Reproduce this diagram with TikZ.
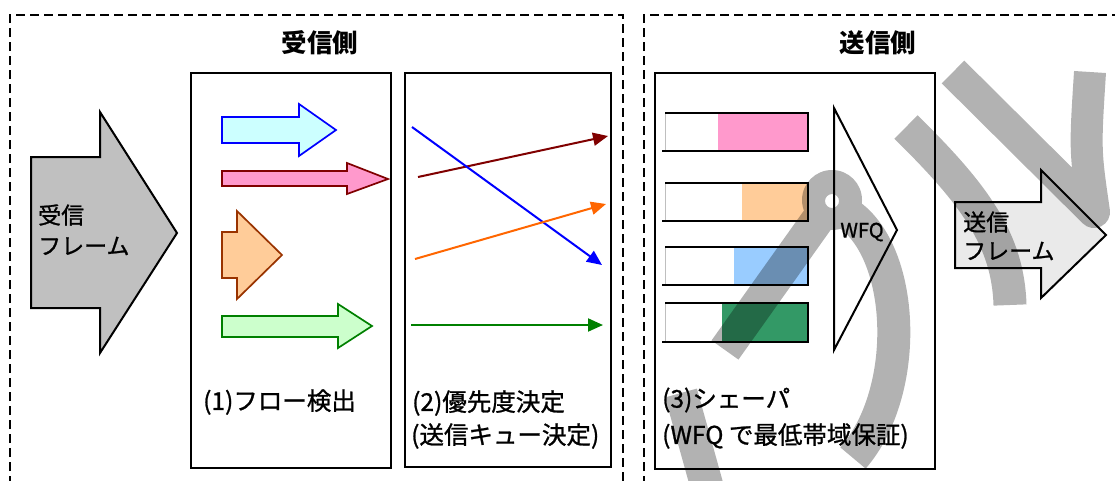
\documentclass[tikz,border=0pt]{standalone}
\usepackage{fontspec}
\setmainfont{Noto Sans CJK JP}
\newfontfamily\jpbody{Noto Sans CJK JP}[FakeBold=1.0]
\usetikzlibrary{arrows.meta}
\definecolor{lblue}{HTML}{CCFFFF}
\definecolor{pinkf}{HTML}{FF99CC}
\definecolor{dred}{HTML}{800000}
\definecolor{orgf}{HTML}{FFCC99}
\definecolor{brn}{HTML}{993300}
\definecolor{lgreen}{HTML}{CCFFCC}
\definecolor{dgreen}{HTML}{008000}
\definecolor{orgline}{HTML}{FF6600}
\definecolor{qblue}{HTML}{99CCFF}
\definecolor{qgreen}{HTML}{339966}
\definecolor{infill}{HTML}{C0C0C0}
\definecolor{outfill}{HTML}{EAEAEA}
\tikzset{
  dashbox/.style={line width=2pt, dash pattern=on 9pt off 5pt},
  panel/.style={line width=2pt},
  blk/.style={line width=2pt, line join=miter},
  flowarrow/.style={line width=1.7pt, line join=miter},
  conn/.style={line width=2pt, -{Triangle[length=15pt,width=13pt]}},
  txt/.style={inner sep=0pt, font=\jpbody\fontsize{24.5}{28}\selectfont},
  arrtxt/.style={inner sep=0pt, font=\jpbody\fontsize{23}{26}\selectfont},
  title/.style={inner sep=0pt, font=\fontsize{25.5}{28}\selectfont\bfseries},
  qline/.style={line width=2pt},
  overlay/.style={black, line width=33pt},
}
\begin{document}
\begin{tikzpicture}[x=1pt,y=-1pt]
\useasboundingbox (0,0) rectangle (1115,480);
\clip (0,0) rectangle (1115,480);
\fill[white] (0,0) rectangle (1115,480);

% dashed areas
\draw[dashbox] (10,485) -- (10,15) -- (623,15) -- (623,485);
\draw[dashbox] (644,485) -- (644,15) -- (1125,15);
\node[title] (rxtitle) at (320,43) {受信側};
\node[title] (txtitle) at (878,43) {送信側};

% input frame arrow
\draw[blk, fill=infill] (31,157) -- (100,157) -- (100,112) -- (177,233) -- (100,353) -- (100,308) -- (31,308) -- cycle;
\node[arrtxt, anchor=west] (in1) at (38,215) {受信};
\node[arrtxt, anchor=west] (in2) at (38,246) {フレーム};

% panel 1
\draw[panel] (191,73) rectangle (391,468);
\draw[flowarrow, draw=blue, fill=lblue] (222,117) -- (299,117) -- (299,104) -- (336,130) -- (299,156) -- (299,143) -- (222,143) -- cycle;
\draw[flowarrow, draw=dred, fill=pinkf] (222,171) -- (347,171) -- (347,163) -- (388,179) -- (347,194) -- (347,186) -- (222,186) -- cycle;
\draw[flowarrow, draw=brn, fill=orgf] (222,232) -- (237,232) -- (237,211) -- (282,255) -- (237,299) -- (237,278) -- (222,278) -- cycle;
\draw[flowarrow, draw=dgreen, fill=lgreen] (222,316) -- (338,316) -- (338,304) -- (372,326) -- (338,348) -- (338,337) -- (222,337) -- cycle;
\node[txt, anchor=west] (lab1) at (203,402) {(1)フロー検出};

% panel 2
\draw[panel] (405,73) rectangle (611,467);
\coordinate (r0) at (418,177); \coordinate (r1) at (608,136);
\coordinate (b0) at (412,127); \coordinate (b1) at (602,265);
\coordinate (o0) at (415,259); \coordinate (o1) at (606,204);
\coordinate (g0) at (411,325); \coordinate (g1) at (603,325);
\draw[conn, draw=dred, fill=dred] (r0) -- (r1);
\draw[conn, draw=blue, fill=blue] (b0) -- (b1);
\draw[conn, draw=orgline, fill=orgline] (o0) -- (o1);
\draw[conn, draw=dgreen, fill=dgreen] (g0) -- (g1);
\node[txt, anchor=west] (lab2a) at (412,403) {(2)優先度決定};
\node[txt, anchor=west] (lab2b) at (411,436) {(送信キュー決定)};

% panel 3
\draw[panel] (655,73) rectangle (935,469);
\foreach \t/\b/\s/\c in {113/151/718/pinkf, 183/221/742/orgf, 247/285/734/qblue, 303/342/722/qgreen}{
  \fill[\c] (\s,\t) rectangle (808,\b);
  \draw[line width=0.7pt, black!25] (665,\t) -- (665,\b);
  \draw[qline] (665,\t) -- (808,\t) -- (808,\b) -- (662,\b);
}
\draw[blk, fill=white] (834,108) -- (897,230) -- (834,350) -- cycle;
\node[inner sep=0pt, font=\jpbody\fontsize{20}{22}\selectfont] (wfq) at (862,232) {WFQ};
\node[txt, anchor=west] (lab3a) at (662,400) {(3)シェーパ};
\node[txt, anchor=west] (lab3b) at (662,436) {(WFQ で最低帯域保証)};

% output frame arrow
\draw[blk, fill=outfill] (955,202) -- (1041,202) -- (1041,170) -- (1106,235) -- (1041,298) -- (1041,268) -- (955,268) -- cycle;
\node[arrtxt, anchor=west] (out1) at (963,222) {送信};
\node[arrtxt, anchor=west] (out2) at (963,251) {フレーム};

% grey overlay strokes
\begin{scope}[transparency group, opacity=0.3]
  \fill[black, even odd rule] (832,200) circle (30) (832,201) circle (7);
  \draw[overlay] (821,215) -- (725,350);
  \draw[overlay] (845,212) .. controls (905,248) and (912,390) .. (853,458);
  \draw[overlay] (681,393) -- (708,490);
  \draw[overlay, line width=32pt, line join=round] (953,72) -- (1094,212) .. controls (1085,150) .. (1090,72);
  \draw[overlay] (906,127) .. controls (975,195) and (1008,240) .. (1010,305);
\end{scope}
\end{tikzpicture}
\end{document}
